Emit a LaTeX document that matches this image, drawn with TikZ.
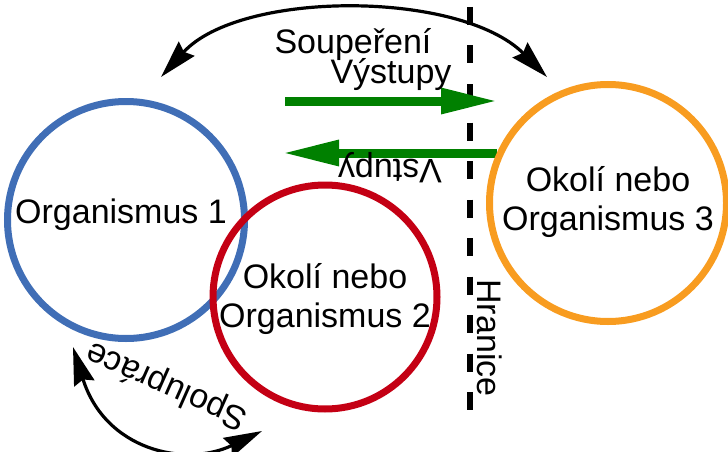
\documentclass[tikz,border=0pt]{standalone}
\usepackage{fontspec}
\setmainfont{Liberation Sans}
\usetikzlibrary{arrows.meta}
\definecolor{cblue}{RGB}{64,110,182}
\definecolor{cred}{RGB}{196,0,20}
\definecolor{corange}{RGB}{248,156,32}
\definecolor{cgreen}{RGB}{0,128,0}
\begin{document}
\begin{tikzpicture}[x=1pt,y=-1pt,
  ring/.style={circle,draw,line width=7pt,minimum size=237pt,inner sep=0pt,align=center},
  lbl/.style={font=\fontsize{34}{39}\selectfont,inner sep=0pt,align=center},
  flow/.style={draw=cgreen,line width=9pt,-{Triangle[length=57pt,width=24pt]}},
  rel/.style={draw=black,line width=3.2pt,{Stealth[length=38pt,width=21pt,inset=4pt]}-{Stealth[length=38pt,width=21pt,inset=4pt]}},
  border/.style={draw=black,line width=6pt,dash pattern=on 18pt off 20.5pt}]
\useasboundingbox (0,0) rectangle (728,452);
% boundary
\coordinate (bt) at (470,7);
\coordinate (bb) at (470,410);
\draw[border] (bt) -- (bb);
% green flows
\coordinate (o1s) at (285,101);
\coordinate (o1e) at (498,101);
\coordinate (i1s) at (497,153);
\coordinate (i1e) at (282,153);
\draw[flow] (o1s) -- (o1e);
\draw[flow] (i1s) -- (i1e);
% circles
\node[ring,draw=cblue] (org1) at (126,220) {};
\node[ring,draw=cred,minimum size=224pt] (org2) at (325,297) {};
\node[ring,draw=corange] (org3) at (608,203) {};
\node[lbl] (t1) at (121,215) {Organismus 1};
\node[lbl] (t2) at (325,299) {Okolí nebo\\Organismus 2};
\node[lbl] (t3) at (608,202) {Okolí nebo\\Organismus 3};
% top arc
\coordinate (a1) at (161,77);
\coordinate (a2) at (547,77);
\draw[rel] (a1) .. controls (240,-10) and (460,-10) .. (a2);
% bottom arc
\coordinate (b1) at (73,347);
\coordinate (b2) at (262,431);
\draw[rel] (b1) .. controls (105,450) and (185,468) .. (b2);
% labels
\node[lbl] (soup) at (353,45) {Soupeření};
\node[lbl] (vyst) at (391,75) {Výstupy};
\node[lbl,rotate=180] (vst) at (390,168) {Vstupy};
\node[lbl,rotate=-90] (hr) at (490,338) {Hranice};
\node[lbl,rotate=156] (spol) at (167,385) {Spolupráce};
\end{tikzpicture}
\end{document}
